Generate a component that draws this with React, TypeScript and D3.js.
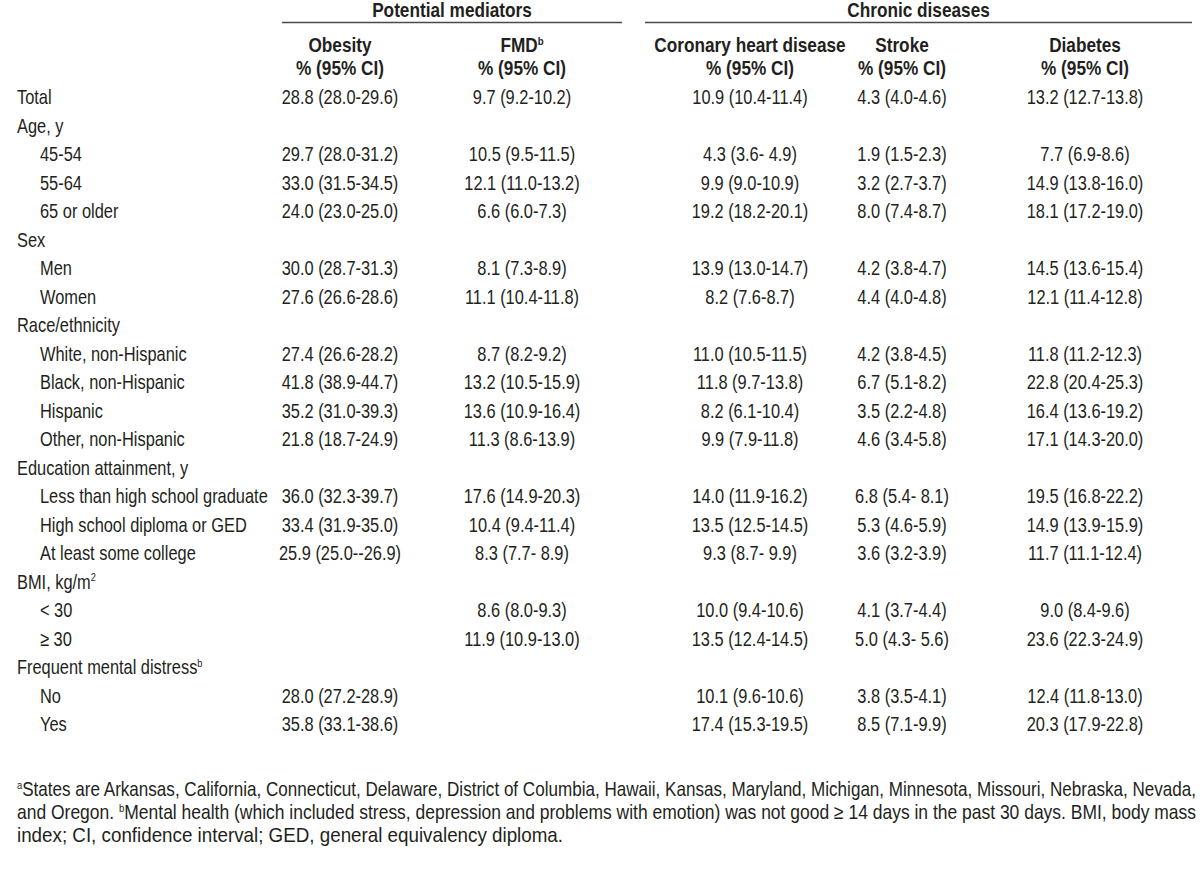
import React, { useLayoutEffect, useRef, useState } from "react";
import * as d3 from "d3";

const rowLabels = [
  "Total", "Age, y", "45-54", "55-64", "65 or older", "Sex", "Men", "Women",
  "Race/ethnicity", "White, non-Hispanic", "Black, non-Hispanic", "Hispanic", "Other, non-Hispanic",
  "Education attainment, y", "Less than high school graduate", "High school diploma or GED", "At least some college",
  "BMI, kg/m", "< 30", "≥ 30", "Frequent mental distress", "No", "Yes",
];
const rowIndent = [0, 0, 1, 1, 1, 0, 1, 1, 0, 1, 1, 1, 1, 0, 1, 1, 1, 0, 1, 1, 0, 1, 1];
const rowSups = ["", "", "", "", "", "", "", "", "", "", "", "", "", "", "", "", "", "2", "", "", "b", "", ""];

const obesity = [
  "28.8 (28.0-29.6)", "", "29.7 (28.0-31.2)", "33.0 (31.5-34.5)", "24.0 (23.0-25.0)", "", "30.0 (28.7-31.3)", "27.6 (26.6-28.6)",
  "", "27.4 (26.6-28.2)", "41.8 (38.9-44.7)", "35.2 (31.0-39.3)", "21.8 (18.7-24.9)",
  "", "36.0 (32.3-39.7)", "33.4 (31.9-35.0)", "25.9 (25.0--26.9)", "", "", "", "", "28.0 (27.2-28.9)", "35.8 (33.1-38.6)",
];
const fmd = [
  "9.7 (9.2-10.2)", "", "10.5 (9.5-11.5)", "12.1 (11.0-13.2)", "6.6 (6.0-7.3)", "", "8.1 (7.3-8.9)", "11.1 (10.4-11.8)",
  "", "8.7 (8.2-9.2)", "13.2 (10.5-15.9)", "13.6 (10.9-16.4)", "11.3 (8.6-13.9)",
  "", "17.6 (14.9-20.3)", "10.4 (9.4-11.4)", "8.3 (7.7- 8.9)", "", "8.6 (8.0-9.3)", "11.9 (10.9-13.0)", "", "", "",
];
const chd = [
  "10.9 (10.4-11.4)", "", "4.3 (3.6- 4.9)", "9.9 (9.0-10.9)", "19.2 (18.2-20.1)", "", "13.9 (13.0-14.7)", "8.2 (7.6-8.7)",
  "", "11.0 (10.5-11.5)", "11.8 (9.7-13.8)", "8.2 (6.1-10.4)", "9.9 (7.9-11.8)",
  "", "14.0 (11.9-16.2)", "13.5 (12.5-14.5)", "9.3 (8.7- 9.9)", "", "10.0 (9.4-10.6)", "13.5 (12.4-14.5)", "", "10.1 (9.6-10.6)", "17.4 (15.3-19.5)",
];
const stroke = [
  "4.3 (4.0-4.6)", "", "1.9 (1.5-2.3)", "3.2 (2.7-3.7)", "8.0 (7.4-8.7)", "", "4.2 (3.8-4.7)", "4.4 (4.0-4.8)",
  "", "4.2 (3.8-4.5)", "6.7 (5.1-8.2)", "3.5 (2.2-4.8)", "4.6 (3.4-5.8)",
  "", "6.8 (5.4- 8.1)", "5.3 (4.6-5.9)", "3.6 (3.2-3.9)", "", "4.1 (3.7-4.4)", "5.0 (4.3- 5.6)", "", "3.8 (3.5-4.1)", "8.5 (7.1-9.9)",
];
const diabetes = [
  "13.2 (12.7-13.8)", "", "7.7 (6.9-8.6)", "14.9 (13.8-16.0)", "18.1 (17.2-19.0)", "", "14.5 (13.6-15.4)", "12.1 (11.4-12.8)",
  "", "11.8 (11.2-12.3)", "22.8 (20.4-25.3)", "16.4 (13.6-19.2)", "17.1 (14.3-20.0)",
  "", "19.5 (16.8-22.2)", "14.9 (13.9-15.9)", "11.7 (11.1-12.4)", "", "9.0 (8.4-9.6)", "23.6 (22.3-24.9)", "", "12.4 (11.8-13.0)", "20.3 (17.9-22.8)",
];

const columnKeys = ["obesity", "fmd", "chd", "stroke", "diabetes"];
const columnTitles = ["Obesity", "FMD", "Coronary heart disease", "Stroke", "Diabetes"];
const columnTitleSups = ["", "b", "", "", ""];
const columnSubtitle = "% (95% CI)";
const groupTitles = ["Potential mediators", "Chronic diseases"];
const columnData = [obesity, fmd, chd, stroke, diabetes];

const W = 1200;
const H = 873;
const FONT = "'Liberation Sans', Arial, sans-serif";
const INK = "#231f20";
const SX = 0.80; // body text horizontal condensation
const HSX = 0.84; // header condensation
const FSX = 0.94; // footnote condensation

function NText({ x, y, anchor = "start", sx = SX, children, ...rest }: any) {
  return (
    <text transform={`translate(${x},${y}) scale(${sx},1)`} textAnchor={anchor} {...rest}>
      {children}
    </text>
  );
}

function FitText({ x, y, width, children, ...rest }: any) {
  const ref = useRef<SVGTextElement>(null);
  const [sx, setSx] = useState(FSX);
  useLayoutEffect(() => {
    if (ref.current) {
      const natural = ref.current.getComputedTextLength();
      if (natural > 0) setSx(width / natural);
    }
  }, [width]);
  return (
    <text ref={ref} transform={`translate(${x},${y}) scale(${sx},1)`} {...rest}>
      {children}
    </text>
  );
}

export default function App() {
  const xCol = d3.scaleOrdinal<string, number>().domain(columnKeys).range([340, 522, 750, 902, 1085]);
  const yRow = d3.scalePoint<number>().domain(d3.range(rowLabels.length)).range([104, 104 + 28.5 * 22]);
  const groups = [
    { title: groupTitles[0], x0: 282, x1: 622 },
    { title: groupTitles[1], x0: 645, x1: 1192 },
  ];
  const fs = 20.5;
  return (
    <svg width={W} height={H} style={{ position: "absolute", left: 0, top: 0, background: "#fff" }} fontFamily={FONT} fill={INK}>
      <rect width={W} height={H} fill="#fff" />
      {groups.map((g) => (
        <g key={g.title}>
          <NText sx={HSX} x={(g.x0 + g.x1) / 2} y={17} anchor="middle" fontWeight="bold" fontSize={fs}>{g.title}</NText>
          <line x1={g.x0} x2={g.x1} y1={22.5} y2={22.5} stroke="#4a4a4a" strokeWidth={1.6} />
        </g>
      ))}
      {columnKeys.map((k, i) => (
        <g key={k} fontWeight="bold" fontSize={fs}>
          <NText sx={HSX} x={xCol(k)} y={52} anchor="middle">
            {columnTitles[i]}
            {columnTitleSups[i] ? <tspan fontSize={11.5} dy={-7.5}>{columnTitleSups[i]}</tspan> : null}
          </NText>
          <NText sx={HSX} x={xCol(k)} y={75} anchor="middle">{columnSubtitle}</NText>
        </g>
      ))}
      {rowLabels.map((lab, r) => (
        <g key={r} fontSize={fs}>
          <NText x={rowIndent[r] ? 40 : 17} y={yRow(r)}>
            {lab}
            {rowSups[r] ? <tspan fontSize={11.5} dy={-7.5}>{rowSups[r]}</tspan> : null}
          </NText>
          {columnKeys.map((k, c) =>
            columnData[c][r] ? (
              <NText key={k} x={xCol(k)} y={yRow(r)} anchor="middle">{columnData[c][r]}</NText>
            ) : null
          )}
        </g>
      ))}
      <g fontSize={20}>
        <FitText x={17} y={796} width={1179}>
          <tspan fontSize={11} dy={-7}>a</tspan>
          <tspan dy={7}>States are Arkansas, California, Connecticut, Delaware, District of Columbia, Hawaii, Kansas, Maryland, Michigan, Minnesota, Missouri, Nebraska, Nevada,</tspan>
        </FitText>
        <FitText x={17} y={819} width={1179}>
          and Oregon. <tspan fontSize={11} dy={-7}>b</tspan>
          <tspan dy={7}>Mental health (which included stress, depression and problems with emotion) was not good ≥ 14 days in the past 30 days. BMI, body mass</tspan>
        </FitText>
        <NText sx={FSX} x={17} y={842}>index; CI, confidence interval; GED, general equivalency diploma.</NText>
      </g>
    </svg>
  );
}
